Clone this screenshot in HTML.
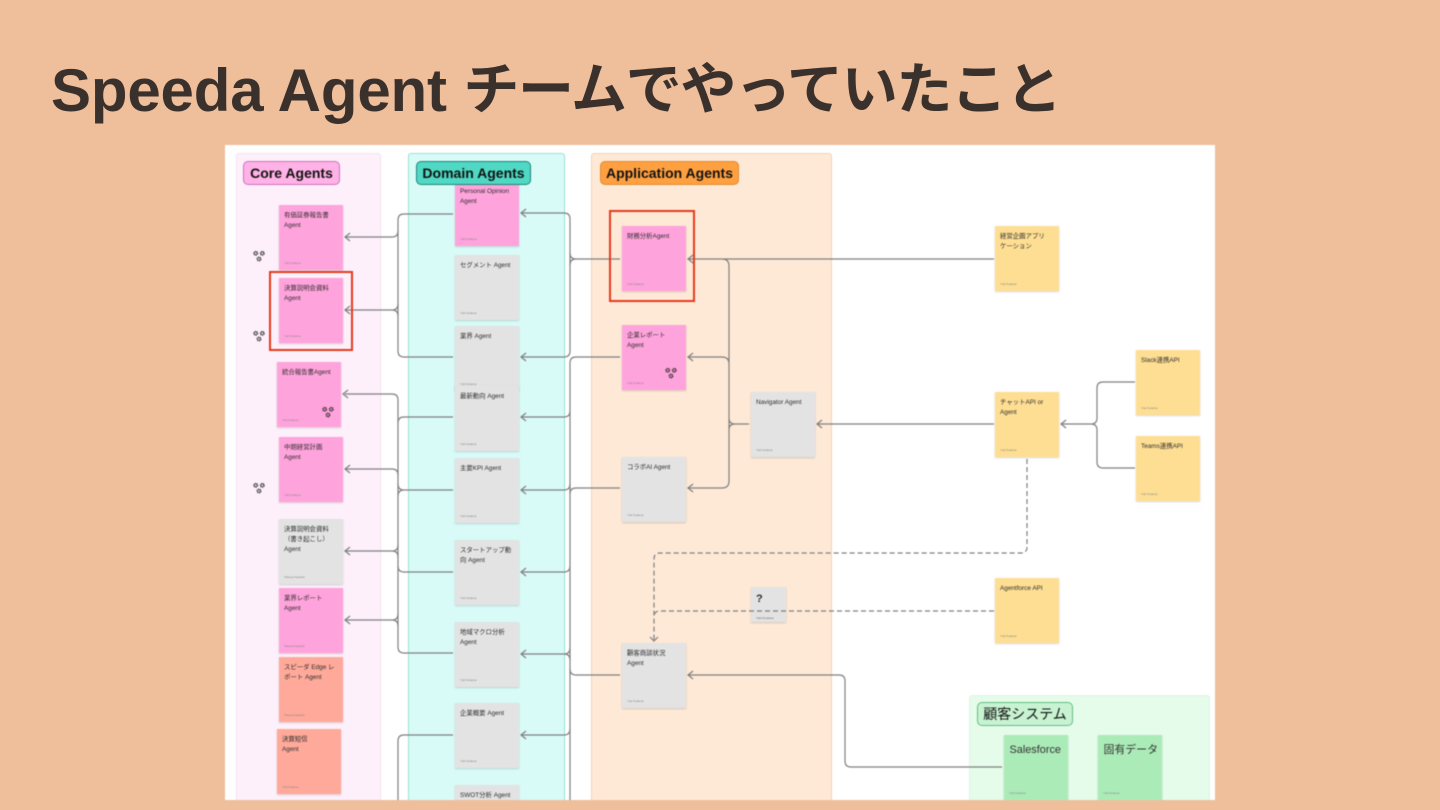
<!DOCTYPE html>
<html lang="ja">
<head>
<meta charset="utf-8">
<title>Speeda Agent チームでやっていたこと</title>
<style>
html,body{margin:0;padding:0;width:1440px;height:810px;overflow:hidden;background:#EFBF9C}
body{position:relative;font-family:"Liberation Sans","Noto Sans CJK JP",sans-serif}
#title{position:absolute;left:51px;top:52px;height:72px;font-size:60px;line-height:72px;font-weight:700;color:#3A302C;white-space:nowrap;letter-spacing:-.17px}
#title span{position:relative;top:-2px;font-size:56px;letter-spacing:-1.3px;font-family:"Noto Sans CJK JP",sans-serif}
#clip{position:absolute;left:225px;top:145px;width:990px;height:655px;overflow:hidden;background:#fff;filter:blur(.45px)}
#d{position:absolute;left:-225px;top:-145px;width:1440px;height:800px;overflow:hidden}
.pnl,.lab,.n,.red{position:absolute;box-sizing:border-box}
.pnl{top:153px;height:647px;border-radius:3px 3px 0 0;border-bottom:0!important}
.lab{height:24px;top:161px;border-radius:5px;font-size:14px;line-height:23px;font-weight:700;text-align:center;color:#111;white-space:nowrap}
.n{width:64px;height:65px;padding:6px 4px 0 5px;font-size:6.4px;line-height:10px;color:#2e2e2e;box-shadow:0 1px 2px rgba(0,0,0,.16);white-space:nowrap}
.n i{position:absolute;left:5px;bottom:5px;font-style:normal;font-size:2.8px;line-height:4px;color:#888}
.p{background:#FFA3DC}.g{background:#E3E3E3}.s{background:#FFA99A}.y{background:#FEDE93}.m{background:#ABEBB8}
.m{font-size:10.9px;line-height:14px;padding:8px 0 0 5.5px;color:#333}
.red{border:2px solid #E5391C}
svg{position:absolute;left:0;top:0}
.c{fill:none;stroke:#7f7f7f;stroke-width:1.2}
.st{fill:none;stroke:#222;stroke-width:1.7;stroke-dasharray:1 .6}
</style>
</head>
<body>
<div id="title">Speeda Agent <span>チームでやっていたこと</span></div>
<div id="clip"><div id="d">
  <div class="pnl" style="left:236px;width:145px;background:#FDF0FA;border:1px solid #F7E0F2"></div>
  <div class="pnl" style="left:408px;width:157px;background:#D9FBF8;border:1px solid #9ADFD6"></div>
  <div class="pnl" style="left:591px;width:241px;background:#FEE9D7;border:1px solid #F7D3AE"></div>
  <div class="pnl" style="left:969px;top:695px;height:105px;width:241px;background:#E6FCEA;border:1px solid #DDF6E2"></div>

  <div class="n p" style="left:279px;top:205px">有価証券報告書<br>Agent<i>Yuki Kodama</i></div>
  <div class="n p" style="left:279px;top:278px">決算説明会資料<br>Agent<i>Yuki Kodama</i></div>
  <div class="n p" style="left:277px;top:362px">統合報告書Agent<i>Yuki Kodama</i></div>
  <div class="n p" style="left:279px;top:437px">中期経営計画<br>Agent<i>Yuki Kodama</i></div>
  <div class="n g" style="left:279px;top:519px">決算説明会資料<br>（書き起こし）<br>Agent<i>Tatsuya Hayashi</i></div>
  <div class="n p" style="left:279px;top:588px">業界レポート<br>Agent<i>Tatsuya Hayashi</i></div>
  <div class="n s" style="left:279px;top:657px">スピーダ Edge レ<br>ポート Agent<i>Tatsuya Hayashi</i></div>
  <div class="n s" style="left:277px;top:729px">決算短信<br>Agent<i>Yuki Kodama</i></div>

  <div class="n p" style="left:455px;top:181px">Personal Opinion<br>Agent<i>Yuki Kodama</i></div>
  <div class="n g" style="left:455px;top:255px">セグメント Agent<i>Yuki Kodama</i></div>
  <div class="n g" style="left:455px;top:326px">業界 Agent<i>Yuki Kodama</i></div>
  <div class="n g" style="left:455px;top:386px">最新動向 Agent<i>Yuki Kodama</i></div>
  <div class="n g" style="left:455px;top:458px">主要KPI Agent<i>Yuki Kodama</i></div>
  <div class="n g" style="left:455px;top:540px">スタートアップ動<br>向 Agent<i>Yuki Kodama</i></div>
  <div class="n g" style="left:455px;top:622px">地域マクロ分析<br>Agent<i>Yuki Kodama</i></div>
  <div class="n g" style="left:455px;top:703px">企業概要 Agent<i>Yuki Kodama</i></div>
  <div class="n g" style="left:455px;top:785px;height:15px">SWOT分析 Agent</div>

  <div class="n p" style="left:622px;top:226px">財務分析Agent<i>Yuki Kodama</i></div>
  <div class="n p" style="left:622px;top:325px">企業レポート<br>Agent<i>Yuki Kodama</i></div>
  <div class="n g" style="left:622px;top:457px">コラボAI Agent<i>Yuki Kodama</i></div>
  <div class="n g" style="left:622px;top:643px">顧客商談状況<br>Agent<i>Yuki Kodama</i></div>
  <div class="n g" style="left:751px;top:392px">Navigator Agent<i>Yuki Kodama</i></div>
  <div class="n g" style="left:751px;top:587px;width:35px;height:35px;font-size:11px;font-weight:700;padding:7px 0 0 5px">?<i style="bottom:2px">Yuki Kodama</i></div>

  <div class="n y" style="left:995px;top:226px">経営企画アプリ<br>ケーション<i>Yuki Kodama</i></div>
  <div class="n y" style="left:995px;top:392px">チャットAPI or<br>Agent<i>Yuki Kodama</i></div>
  <div class="n y" style="left:995px;top:578px">Agentforce API<i>Yuki Kodama</i></div>
  <div class="n y" style="left:1136px;top:350px">Slack連携API<i>Yuki Kodama</i></div>
  <div class="n y" style="left:1136px;top:436px">Teams連携API<i>Yuki Kodama</i></div>

  <div class="n m" style="left:1004px;top:735px">Salesforce<i>Yuki Kodama</i></div>
  <div class="n m" style="left:1098px;top:735px">固有データ<i>Yuki Kodama</i></div>

  <svg width="1440" height="800" viewBox="0 0 1440 800">
    <g class="c">
      <path class="c" d="M453 214H404Q398 214 398 220V351Q398 357 404 357H453"/>
      <path class="c" d="M345 237H392Q398 237 398 231M345 310H392Q398 310 398 304M392 310Q398 310 398 316"/>
      <path class="c" d="M345 394H392Q398 394 398 400V647Q398 653 404 653H453"/>
      <path class="c" d="M453 417H404Q398 417 398 423M345 469H392Q398 469 398 475M453 490H404Q398 490 398 484M404 490Q398 490 398 496M453 572H404Q398 572 398 566M345 551H392Q398 551 398 545M392 551Q398 551 398 557M345 620H392Q398 620 398 614M392 620Q398 620 398 626"/>
      <path class="c" d="M453 735H404Q398 735 398 741V800"/>

      <path class="c" d="M521 213H564Q570 213 570 219V351Q570 357 564 357H521"/>
      <path class="c" d="M620 259H576Q570 259 570 253M576 259Q570 259 570 265"/>
      <path class="c" d="M620 357H576Q570 357 570 363V800"/>
      <path class="c" d="M521 417H564Q570 417 570 411M521 490H564Q570 490 570 484M521 572H564Q570 572 570 566M521 654H564Q570 654 570 648M564 654Q570 654 570 660M521 735H564Q570 735 570 729"/>
      <path class="c" d="M620 488H576Q570 488 570 494M620 675H576Q570 675 570 669"/>

      <path class="c" d="M994 259H688M722 259Q729 259 729 266V481Q729 488 722 488H688M688 357H722Q729 357 729 364M749 424H735Q729 424 729 418M735 424Q729 424 729 430"/>
      <path class="c" d="M994 424H817"/>
      <path class="c" d="M1061 424H1091Q1097 424 1097 418V388Q1097 382 1103 382H1135M1091 424Q1097 424 1097 430V462Q1097 468 1103 468H1135"/>
      <path class="c" d="M688 675H839Q845 675 845 681V761Q845 767 851 767H1002"/>

      <path class="c" stroke-dasharray="5 3" d="M1027 459V547Q1027 553 1021 553H660Q654 553 654 559V640"/>
      <path class="c" stroke-dasharray="5 3" d="M994 611H660Q654 611 654 617"/>

      <path class="c" d="M350 233L345 237L350 241M350 306L345 310L350 314M348 390L343 394L348 398M350 465L345 469L350 473M350 547L345 551L350 555M350 616L345 620L350 624"/>
      <path class="c" d="M526 209L521 213L526 217M526 353L521 357L526 361M526 413L521 417L526 421M526 486L521 490L526 494M526 568L521 572L526 576M526 650L521 654L526 658M526 731L521 735L526 739"/>
      <path class="c" d="M693 255L688 259L693 263M693 353L688 357L693 361M693 484L688 488L693 492M693 671L688 675L693 679M822 420L817 424L822 428M1066 420L1061 424L1066 428M650 637L654 641L658 637"/>
    </g>
    <g class="st">
      <circle cx="255.7" cy="253.3" r="1.6"/><circle cx="262.3" cy="253.3" r="1.6"/><circle cx="259" cy="259" r="1.6"/>
      <circle cx="255.7" cy="333.3" r="1.6"/><circle cx="262.3" cy="333.3" r="1.6"/><circle cx="259" cy="339" r="1.6"/>
      <circle cx="255.7" cy="485.3" r="1.6"/><circle cx="262.3" cy="485.3" r="1.6"/><circle cx="259" cy="491" r="1.6"/>
      <circle cx="324.7" cy="409.3" r="1.6"/><circle cx="331.3" cy="409.3" r="1.6"/><circle cx="328" cy="415" r="1.6"/>
      <circle cx="667.7" cy="370.3" r="1.6"/><circle cx="674.3" cy="370.3" r="1.6"/><circle cx="671" cy="376" r="1.6"/>
    </g>
  </svg>

  <div class="red" style="left:269px;top:271px;width:84px;height:80px"></div>
  <div class="red" style="left:609px;top:210px;width:86px;height:92px"></div>

  <div class="lab" style="left:243px;width:97px;background:#FFB2E6;border:1px solid #CE6FC0">Core Agents</div>
  <div class="lab" style="left:416px;width:115px;background:#4FD8C4;border:1px solid #1F8577">Domain Agents</div>
  <div class="lab" style="left:600px;width:139px;background:#FFA040;border:1px solid #E08A30">Application Agents</div>
  <div class="lab" style="left:977px;top:702px;width:96px;background:#C8F3D2;border:1px solid #62BE82;font-weight:400">顧客システム</div>
</div></div>
</body>
</html>
